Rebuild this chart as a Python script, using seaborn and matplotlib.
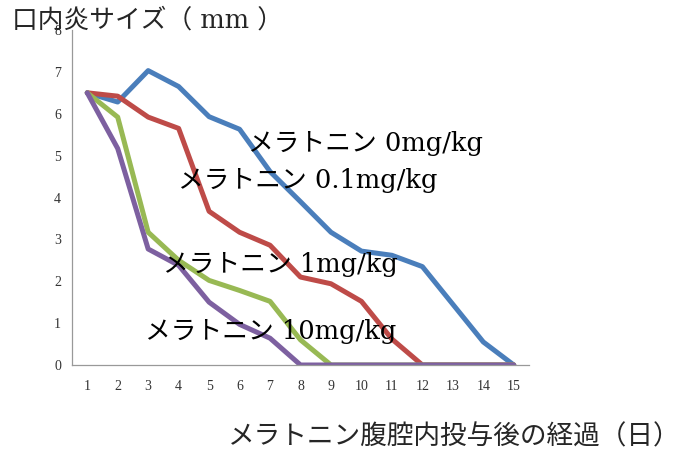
import matplotlib
matplotlib.use("Agg")
import matplotlib.pyplot as plt
import seaborn as sns
import pandas as pd
import numpy as np

days = list(range(1, 16))
series_names = ["メラトニン 0mg/kg", "メラトニン 0.1mg/kg", "メラトニン 1mg/kg", "メラトニン 10mg/kg"]
v_0 = [6.5, 6.28, 7.03, 6.65, 5.93, 5.63, 4.62, 3.9, 3.17, 2.72, 2.62, 2.35, 1.45, 0.55, 0.0]
v_01 = [6.5, 6.42, 5.92, 5.65, 3.67, 3.17, 2.86, 2.1, 1.94, 1.52, 0.62, 0.0, 0.0, 0.0, 0.0]
v_1 = [6.5, 5.92, 3.17, 2.5, 2.02, 1.78, 1.52, 0.6, 0.0, 0.0, 0.0, 0.0, 0.0, 0.0, 0.0]
v_10 = [6.5, 5.17, 2.77, 2.38, 1.5, 0.97, 0.64, 0.0, 0.0, 0.0, 0.0, 0.0, 0.0, 0.0, 0.0]
y_ticks = [0, 1, 2, 3, 4, 5, 6, 7, 8]
title = "口内炎サイズ（ mm ）"
xlabel = "メラトニン腹腔内投与後の経過（日）"

colors = ["#4A7EBB", "#BE4B48", "#98B954", "#7D60A0"]

df = pd.DataFrame({
    "day": days * 4,
    "size": v_0 + v_01 + v_1 + v_10,
    "group": sum([[n] * len(days) for n in series_names], []),
})

sns.set_style("white")
plt.rcParams['font.family'] = ['Liberation Serif', 'Noto Sans CJK JP']

fig = plt.figure(figsize=(6.88, 4.54), dpi=100)
ax = fig.add_axes([72/688, 1 - 365/454, (529-72)/688, (365-30)/454])

sns.lineplot(data=df, x="day", y="size", hue="group", hue_order=series_names,
             palette=colors, linewidth=3.6, ax=ax, legend=False, sort=False)

ax.set_xlim(0.5, 15.5)
ax.set_ylim(0, 8)
ax.set_xticks(days)
ax.set_xticklabels([str(d) for d in days], fontsize=10)
ax.set_xticks(np.arange(0.5, 16, 1), minor=True)
ax.set_yticks(y_ticks)
ax.set_yticklabels([str(t) for t in y_ticks], fontsize=10)
ax.tick_params(axis='x', which='major', length=0, pad=11, colors='#333333')
ax.tick_params(axis='x', which='minor', length=4, width=0.8, color='#888888', direction='out')
ax.tick_params(axis='y', which='major', length=4, width=0.8, color='#888888', direction='out', pad=4, labelcolor='#333333')
for s in ['top', 'right']:
    ax.spines[s].set_visible(False)
for s in ['left', 'bottom']:
    ax.spines[s].set_color('#999999')
    ax.spines[s].set_linewidth(0.9)
ax.set_xlabel("")
ax.set_ylabel("")

label_pos = [(6.28, 5.3), (3.98, 4.41), (3.49, 2.39), (2.9, 0.79)]
for name, (x, y) in zip(series_names, label_pos):
    ax.text(x, y, name, fontsize=18.5, va='center', ha='left', color='black', zorder=10,
            family=['DejaVu Serif', 'Noto Sans CJK JP'])

fig.text(12/688, 1 - 20/454, title, fontsize=18.5, va='center', ha='left',
         family=['DejaVu Serif', 'Noto Sans CJK JP'])
fig.text(228/688, 1 - 437/454, xlabel, fontsize=19.2, va='center', ha='left',
         family=['Noto Sans CJK JP'])

fig.savefig("out.png", dpi=100)
